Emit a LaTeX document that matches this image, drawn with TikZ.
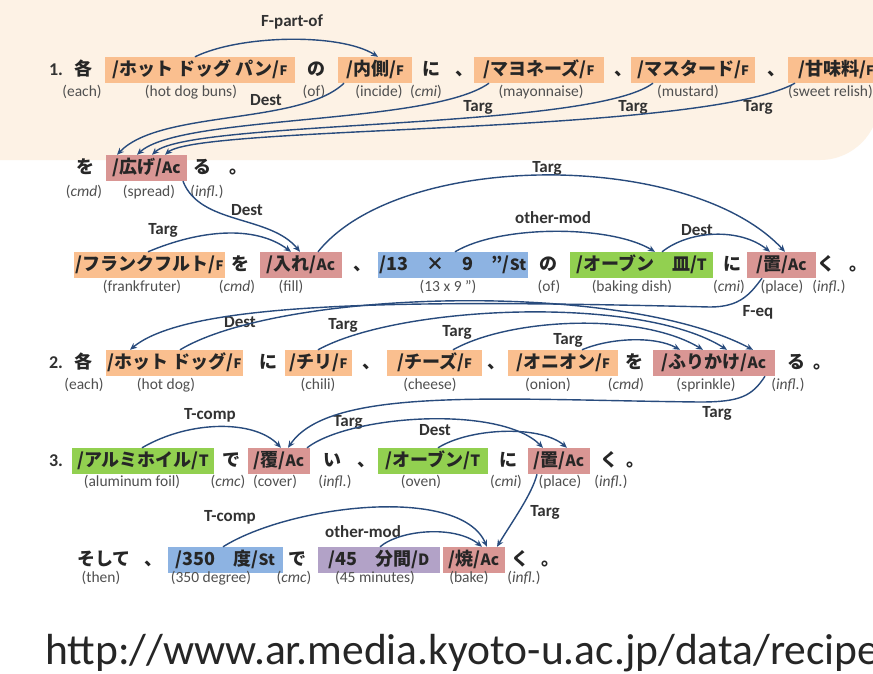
\documentclass[tikz,border=0pt]{standalone}
\usepackage{fontspec}
\setmainfont{Carlito}
\newfontfamily\jp{Noto Sans CJK JP}
\usetikzlibrary{arrows.meta}
\definecolor{bgbeige}{RGB}{253,242,229}
\definecolor{cF}{RGB}{250,191,143}
\definecolor{cAc}{RGB}{217,150,148}
\definecolor{cSt}{RGB}{141,179,226}
\definecolor{cT}{RGB}{146,208,80}
\definecolor{cD}{RGB}{178,162,199}
\definecolor{arcc}{RGB}{40,75,125}
\definecolor{anng}{RGB}{80,80,80}
\definecolor{labg}{RGB}{50,50,50}
\newcommand{\tgF}[1]{{\fontsize{13}{13}\selectfont #1}}
\newcommand{\tg}[1]{{\fontsize{15.5}{15.5}\selectfont #1}}
\begin{document}
\begin{tikzpicture}[x=1pt,y=-1pt,
  tok/.style={inner sep=0pt, font=\jp\bfseries\fontsize{18}{18}\selectfont, text=black!85, text height=14pt, text depth=3.5pt},
  ent/.style={tok, inner xsep=2pt, inner ysep=4.25pt, minimum height=26pt},
  eF/.style={ent, fill=cF}, eAc/.style={ent, fill=cAc}, eSt/.style={ent, fill=cSt},
  eT/.style={ent, fill=cT}, eD/.style={ent, fill=cD},
  num/.style={inner sep=0pt, font=\bfseries\fontsize{18}{18}\selectfont, text height=14pt, text depth=3.5pt, text=labg},
  ann/.style={anchor=base, inner sep=0pt, font=\fontsize{15.5}{15.5}\selectfont, text=anng},
  lab/.style={inner sep=0pt, font=\bfseries\fontsize{17}{17}\selectfont, text=labg},
  arc/.style={draw=arcc, line width=1.4pt, -{Stealth[length=7pt,width=6pt]}}
]
\fill[white] (0,0) rectangle (873,673);
\useasboundingbox (0,0) rectangle (873,673);
\fill[bgbeige, rounded corners=59pt] (-100,-100) rectangle (879,160);

% ---------- row 1
\node[num] (n1) at (56,70) {1.};
\node[tok] (k1) at (83,70) {各};
\node[eF, minimum width=190pt] (hdb) at (200,70) {/ホット ドッグ パン/\tgF{F}};
\node[tok] (no1) at (316,70) {の};
\node[eF, minimum width=74pt] (naig) at (375,70) {/内側/\tgF{F}};
\node[tok] (ni1) at (431,70) {に};
\node[tok] (c1) at (464,70) {、};
\node[eF, minimum width=130pt] (mayo) at (539,70) {/マヨネーズ/\tgF{F}};
\node[tok] (c2) at (623,70) {、};
\node[eF, minimum width=124pt] (must) at (693,70) {/マスタード/\tgF{F}};
\node[tok] (c3) at (776,70) {、};
\node[eF, minimum width=96pt] (ama) at (836,70) {/甘味料/\tgF{F}};

\node[ann] (a11) at (82,96) {(each)};
\node[ann] (a12) at (191,96) {(hot dog buns)};
\node[ann] (a13) at (314,96) {(of)};
\node[ann] (a14) at (379,96) {(incide)};
\node[ann] (a15) at (426,96) {(\textit{cmi})};
\node[ann] (a16) at (541,96) {(mayonnaise)};
\node[ann] (a17) at (688,96) {(mustard)};
\node[ann, anchor=base west] (a18) at (788,96) {(sweet relish)};

% ---------- row 1b
\node[tok] (wo1) at (85,168) {を};
\node[eAc, minimum width=81pt] (hiro) at (146.5,168) {/広げ/\tg{Ac}};
\node[tok] (ru1) at (202,168) {る};
\node[tok] (p1) at (238,168) {。};
\node[ann] (b11) at (84,196) {(\textit{cmd})};
\node[ann] (b12) at (149,196) {(spread)};
\node[ann] (b13) at (207,196) {(\textit{infl.})};

% ---------- row 2a
\node[eF, minimum width=149pt] (fra) at (149.5,265) {/フランクフルト/\tgF{F}};
\node[tok] (wo2) at (240,265) {を};
\node[eAc, minimum width=82pt] (ire) at (301,265) {/入れ/\tg{Ac}};
\node[tok] (c4) at (362,265) {、};
\node[eSt, minimum width=150pt] (st1) at (453,265) {/13　×　9　”/\tg{St}};
\node[tok] (no2) at (548,265) {の};
\node[eT, minimum width=143pt] (oven1) at (641.5,265) {/オーブン　皿/\tg{T}};
\node[tok] (ni2) at (732,265) {に};
\node[eAc, minimum width=69pt] (oki1) at (781.5,265) {/置/\tg{Ac}};
\node[tok] (ku1) at (826,265) {く};
\node[tok] (p2) at (858,265) {。};
\node[ann] (b21) at (142,291) {(frankfruter)};
\node[ann] (b22) at (237,291) {(\textit{cmd})};
\node[ann] (b23) at (291,291) {(fill)};
\node[ann] (b24) at (448,291) {(13 x 9 ”)};
\node[ann] (b25) at (549,291) {(of)};
\node[ann] (b26) at (632,291) {(baking dish)};
\node[ann] (b27) at (729,291) {(\textit{cmi})};
\node[ann] (b28) at (782,291) {(place)};
\node[ann] (b29) at (829,291) {(\textit{infl.})};

% ---------- row 2
\node[num] (n2) at (56,363) {2.};
\node[tok] (k2) at (83,363) {各};
\node[eF, minimum width=137pt] (hd2) at (174.5,363) {/ホット ドッグ/\tgF{F}};
\node[tok] (ni3) at (268,363) {に};
\node[eF, minimum width=67pt] (chili) at (318.5,363) {/チリ/\tgF{F}};
\node[tok] (c5) at (371,363) {、};
\node[eF, minimum width=95pt] (chee) at (434.5,363) {/チーズ/\tgF{F}};
\node[tok] (c6) at (496,363) {、};
\node[eF, minimum width=110pt] (oni) at (563,363) {/オニオン/\tgF{F}};
\node[tok] (wo3) at (634,363) {を};
\node[eAc, minimum width=122pt] (furi) at (714,363) {/ふりかけ/\tg{Ac}};
\node[tok] (ru2) at (796,363) {る};
\node[tok] (p3) at (822,363) {。};
\node[ann] (c21) at (84,389) {(each)};
\node[ann] (c22) at (166,389) {(hot dog)};
\node[ann] (c23) at (318,389) {(chili)};
\node[ann] (c24) at (430,389) {(cheese)};
\node[ann] (c25) at (548,389) {(onion)};
\node[ann] (c26) at (626,389) {(\textit{cmd})};
\node[ann] (c27) at (706,389) {(sprinkle)};
\node[ann] (c28) at (788,389) {(\textit{infl.})};

% ---------- row 3
\node[num] (n3) at (56,461) {3.};
\node[eT, minimum width=142pt] (alu) at (143,461) {/アルミホイル/\tg{T}};
\node[tok] (de1) at (231,461) {で};
\node[eAc, minimum width=62pt] (oou) at (279,461) {/覆/\tg{Ac}};
\node[tok] (i1) at (332,461) {い};
\node[tok] (c7) at (366,461) {、};
\node[eT, minimum width=110pt] (oven2) at (433,461) {/オーブン/\tg{T}};
\node[tok] (ni4) at (508,461) {に};
\node[eAc, minimum width=62pt] (oki2) at (559,461) {/置/\tg{Ac}};
\node[tok] (ku2) at (609,461) {く};
\node[tok] (p4) at (635,461) {。};
\node[ann] (d1) at (132,486) {(aluminum foil)};
\node[ann] (d2) at (228,486) {(\textit{cmc})};
\node[ann] (d3) at (275,486) {(cover)};
\node[ann] (d4) at (335,486) {(\textit{infl.})};
\node[ann] (d5) at (421,486) {(oven)};
\node[ann] (d6) at (506,486) {(\textit{cmi})};
\node[ann] (d7) at (560,486) {(place)};
\node[ann] (d8) at (611,486) {(\textit{infl.})};

% ---------- row 4
\node[tok] (so) at (104,560) {そして};
\node[tok] (c8) at (153,560) {、};
\node[eSt, minimum width=115pt] (deg) at (225.5,560) {/350　度/\tg{St}};
\node[tok] (de2) at (297,560) {で};
\node[eD, minimum width=122pt] (mins) at (379,560) {/45　分間/\tg{D}};
\node[eAc, minimum width=62pt] (yaki) at (474,560) {/焼/\tg{Ac}};
\node[tok] (ku3) at (520,560) {く};
\node[tok] (p5) at (550,560) {。};
\node[ann] (e1) at (101,582) {(then)};
\node[ann] (e2) at (211,582) {(350 degree)};
\node[ann] (e3) at (294,582) {(\textit{cmc})};
\node[ann] (e4) at (375,582) {(45 minutes)};
\node[ann] (e5) at (469,582) {(bake)};
\node[ann] (e6) at (524,582) {(\textit{infl.})};

% ---------- URL
\node[anchor=base west, inner sep=0pt, font=\fontsize{43.5}{43.5}\selectfont, text=black!85] (url) at (45,664) {http://www.ar.media.kyoto-u.ac.jp/data/recipe};

% ---------- arc labels
\node[lab] (l1) at (292,22) {F-part-of};
\node[lab] (l2) at (266,100) {Dest};
\node[lab] (l3) at (478,107) {Targ};
\node[lab] (l4) at (633,107) {Targ};
\node[lab] (l5) at (758,107) {Targ};
\node[lab] (l6) at (547,168) {Targ};
\node[lab] (l7) at (247,210) {Dest};
\node[lab] (l8) at (163,230) {Targ};
\node[lab] (l9) at (553,218) {other-mod};
\node[lab] (l10) at (697,230) {Dest};
\node[lab] (l11) at (758,312) {F-eq};
\node[lab] (l12) at (240,322) {Dest};
\node[lab] (l13) at (343,325) {Targ};
\node[lab] (l14) at (457,332) {Targ};
\node[lab] (l15) at (568,340) {Targ};
\node[lab] (l16) at (210,415) {T-comp};
\node[lab] (l17) at (348,422) {Targ};
\node[lab] (l18) at (435,430) {Dest};
\node[lab] (l19) at (717,413) {Targ};
\node[lab] (l20) at (545,512) {Targ};
\node[lab] (l21) at (230,517) {T-comp};
\node[lab] (l22) at (363,532) {other-mod};

% ---------- arcs
\coordinate (feqmid) at (710,307);
\coordinate (tgmid) at (700,402);
% row 1
\draw[arc] ([xshift=-5pt]hdb.north) .. controls +(45,-22) and +(-38,-24) .. ([xshift=3pt]naig.north);
\draw[arc] ([xshift=-31pt]naig.south) .. controls +(-44,42) and +(43,-45) .. ([xshift=-29.5pt]hiro.north);
\draw[arc] ([xshift=-50pt]mayo.south) .. controls +(-59,42) and +(43,-40) .. ([xshift=-9.5pt]hiro.north);
\draw[arc] ([xshift=-40pt]must.south) .. controls +(-63,47) and +(38,-35) .. ([xshift=5.5pt]hiro.north);
\draw[arc] ([xshift=-41pt]ama.south) .. controls +(-95,52) and +(35,-30) .. ([xshift=18.5pt]hiro.north);
% row 2a
\draw[arc] ([xshift=36.5pt]hiro.south) .. controls +(17,44) and +(-30,-37) .. ([xshift=-1pt]ire.north);
\draw[arc] ([xshift=-1.5pt]fra.north) .. controls +(52,-22) and +(-36,-27) .. ([xshift=-10pt]ire.north);
\draw[arc] ([xshift=17pt]ire.north) .. controls +(82,-102) and +(-95,-102) .. ([xshift=3.5pt]oki1.north);
\draw[arc] ([xshift=2pt]st1.north) .. controls +(45,-27) and +(-45,-27) .. ([xshift=13.5pt]oven1.north);
\draw[arc] ([xshift=20.5pt]oven1.north) .. controls +(28,-22) and +(-30,-24) .. ([xshift=-11.5pt]oki1.north);
% F-eq
\draw[arc] ([xshift=-19.5pt]oki1.south) .. controls +(-12,16) and +(30,0) .. (feqmid)
  .. controls +(-290,-7) and +(60,-50) .. ([xshift=-44.5pt]hd2.north);
% row 2
\draw[arc] ([xshift=5.5pt]hd2.north) .. controls +(100,-60) and +(-133,-70) .. ([xshift=39pt]furi.north);
\draw[arc] ([xshift=-0.5pt]chili.north) .. controls +(82,-45) and +(-87,-55) .. ([xshift=13pt]furi.north);
\draw[arc] ([xshift=18.5pt]chee.north) .. controls +(57,-32) and +(-63,-38) .. ([xshift=-11pt]furi.north);
\draw[arc] ([xshift=19pt]oni.north) .. controls +(28,-12) and +(-25,-14) .. ([xshift=-34pt]furi.north);
% row 3
\draw[arc] ([xshift=51pt]furi.south) .. controls +(-13,20) and +(40,0) .. (tgmid)
  .. controls +(-200,-2) and +(42,-62) .. ([xshift=9pt]oou.north);
\draw[arc] ([xshift=-1pt]alu.north) .. controls +(48,-28) and +(-26,-28) .. ([xshift=2pt]oou.north);
\draw[arc] ([xshift=28pt]oou.north) .. controls +(43,-33) and +(-43,-43) .. ([xshift=-16pt]oki2.north);
\draw[arc] ([xshift=5pt]oven2.north) .. controls +(32,-20) and +(-27,-23) .. ([xshift=8pt]oki2.north);
% row 4
\draw[arc] ([xshift=-22pt]oki2.south) .. controls +(-5,20) and +(15,-25) .. ([xshift=23pt]yaki.north);
\draw[arc] ([xshift=-2.5pt]deg.north) .. controls +(67,-42) and +(-27,-62) .. ([xshift=13pt]yaki.north);
\draw[arc] ([xshift=1pt]mins.north) .. controls +(20,-17) and +(-27,-22) .. ([xshift=8pt]yaki.north);
\end{tikzpicture}
\end{document}
